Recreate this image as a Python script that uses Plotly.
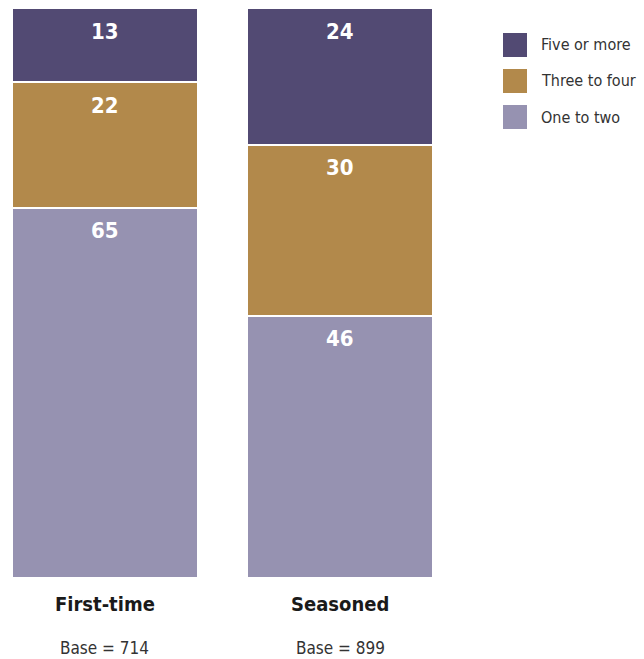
import plotly.graph_objects as go

categories = ["First-time", "Seasoned"]
bases = [714, 899]
series_names = ["One to two", "Three to four", "Five or more"]
one_to_two = [65, 46]
three_to_four = [22, 30]
five_or_more = [13, 24]
series_values = [one_to_two, three_to_four, five_or_more]
colors = ["#9692B1", "#B2894B", "#524A73"]

W, H = 644, 659
ML, MR, MT, MB = 12, 211, 8, 81
PW, PH = W - ML - MR, H - MT - MB
FONT = "DejaVu Sans Condensed"

def px_x(x):
    return (x - ML) / PW

def px_y(y):
    return (H - MB - y) / PH

fig = go.Figure()
annotations = []
cum = [0] * len(categories)
for name, vals, col in zip(series_names, series_values, colors):
    fig.add_trace(go.Bar(
        x=list(range(len(categories))), y=vals, name=name,
        marker=dict(color=col, line=dict(color="white", width=2)),
        width=0.79, showlegend=False, hoverinfo="skip",
    ))
    for i, v in enumerate(vals):
        cum[i] += v
        annotations.append(dict(x=i, y=cum[i], xref="x", yref="y", text="<b>%d</b>" % v,
                                showarrow=False, xanchor="center", yanchor="middle", yshift=-23,
                                font=dict(family=FONT, size=22, color="white")))

for i, (cat, b) in enumerate(zip(categories, bases)):
    annotations.append(dict(x=i, y=px_y(604), xref="x", yref="paper", text="<b>%s</b>" % cat,
                            showarrow=False, xanchor="center", yanchor="middle",
                            font=dict(family=FONT, size=20, color="#1a1a1a")))
    annotations.append(dict(x=i, y=px_y(648), xref="x", yref="paper", text="Base = %d" % b,
                            showarrow=False, xanchor="center", yanchor="middle",
                            font=dict(family=FONT, size=17, color="#333333")))

shapes = []
leg_y = [45, 81, 117]
for (name, col), yc in zip(list(zip(series_names, colors))[::-1], leg_y):
    shapes.append(dict(type="rect", xref="paper", yref="paper",
                       x0=px_x(503), x1=px_x(527), y0=px_y(yc + 12), y1=px_y(yc - 12),
                       fillcolor=col, line=dict(width=0)))
    annotations.append(dict(x=px_x(539), y=px_y(yc), xref="paper", yref="paper", text=name,
                            showarrow=False, xanchor="left", yanchor="middle",
                            font=dict(family=FONT, size=16, color="#333333")))

fig.update_layout(
    width=W, height=H, barmode="stack",
    margin=dict(l=ML, r=MR, t=MT, b=MB),
    paper_bgcolor="white", plot_bgcolor="white",
    xaxis=dict(range=[-0.395, 1.395], showticklabels=False, showgrid=False, zeroline=False, fixedrange=True),
    yaxis=dict(range=[0, 100], showticklabels=False, showgrid=False, zeroline=False, fixedrange=True),
    annotations=annotations, shapes=shapes, showlegend=False,
)
fig.write_html("out.html")
